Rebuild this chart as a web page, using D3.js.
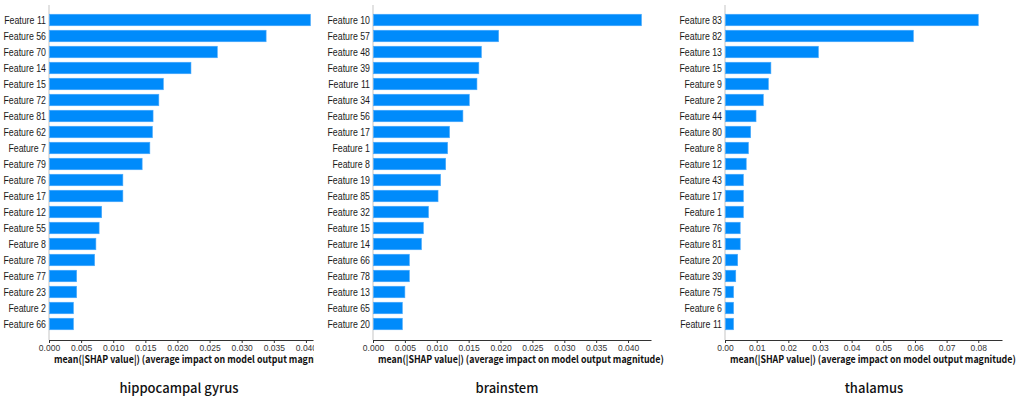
<!DOCTYPE html>
<html lang="en">
<head>
<meta charset="UTF-8">
<title>SHAP feature importance by region</title>
<script src="https://d3js.org/d3.v7.min.js"></script>
<style>
    body { margin: 0; background: #fff; }
    .feat { font: 10px "Liberation Sans", sans-serif; fill: #1a1a1a; }
    .tick text { font: 8.5px "Liberation Sans", sans-serif; fill: #333; }
    .xlabel { font: 600 10px "Noto Sans CJK SC", "Liberation Sans", sans-serif; fill: #111; }
    .title { font: 500 13px "Noto Sans CJK SC", "Liberation Sans", sans-serif; fill: #111; }
</style>
</head>
<body>
<div id="chart"></div>
<script>
    const width = 1021;
    const height = 398;

    // region titles
    const regions = ["hippocampal gyrus", "brainstem", "thalamus"];

    // hippocampal gyrus
    const hgFeatures = ["Feature 11", "Feature 56", "Feature 70", "Feature 14", "Feature 15", "Feature 72", "Feature 81",
        "Feature 62", "Feature 7", "Feature 79", "Feature 76", "Feature 17", "Feature 12", "Feature 55", "Feature 8",
        "Feature 78", "Feature 77", "Feature 23", "Feature 2", "Feature 66"];
    const hgValues = [0.0407, 0.0338, 0.0262, 0.0221, 0.0178, 0.0171, 0.0162, 0.0161, 0.0157, 0.0145,
        0.0115, 0.0115, 0.0082, 0.0078, 0.0073, 0.0071, 0.0043, 0.0043, 0.0038, 0.0038];

    // brainstem
    const bsFeatures = ["Feature 10", "Feature 57", "Feature 48", "Feature 39", "Feature 11", "Feature 34", "Feature 56",
        "Feature 17", "Feature 1", "Feature 8", "Feature 19", "Feature 85", "Feature 32", "Feature 15", "Feature 14",
        "Feature 66", "Feature 78", "Feature 13", "Feature 65", "Feature 20"];
    const bsValues = [0.0421, 0.0197, 0.0170, 0.0166, 0.0163, 0.0151, 0.0141, 0.0120, 0.0117, 0.0114,
        0.0106, 0.0102, 0.0087, 0.0079, 0.0076, 0.0057, 0.0057, 0.0050, 0.0046, 0.0046];

    // thalamus
    const thFeatures = ["Feature 83", "Feature 82", "Feature 13", "Feature 15", "Feature 9", "Feature 2", "Feature 44",
        "Feature 80", "Feature 8", "Feature 12", "Feature 43", "Feature 17", "Feature 1", "Feature 76", "Feature 81",
        "Feature 20", "Feature 39", "Feature 75", "Feature 6", "Feature 11"];
    const thValues = [0.0800, 0.0595, 0.0295, 0.0145, 0.0137, 0.0121, 0.0098, 0.0081, 0.0074, 0.0067,
        0.0058, 0.0058, 0.0058, 0.0048, 0.0048, 0.0040, 0.0034, 0.0027, 0.0027, 0.0027];

    // tick values
    const smallTicks = [0, 0.005, 0.010, 0.015, 0.020, 0.025, 0.030, 0.035, 0.040];
    const largeTicks = [0, 0.01, 0.02, 0.03, 0.04, 0.05, 0.06, 0.07, 0.08];

    const xLabel = "mean(|SHAP value|) (average impact on model output magnitude)";

    const panels = [
        { title: regions[0], features: hgFeatures, values: hgValues, ticks: smallTicks, fmt: ".3f",
          x0: 49, x1: 313, xMax: 0.0411, clip: 314, titleX: 179 },
        { title: regions[1], features: bsFeatures, values: bsValues, ticks: smallTicks, fmt: ".3f",
          x0: 373, x1: 651, xMax: 0.0436, clip: 670, titleX: 507 },
        { title: regions[2], features: thFeatures, values: thValues, ticks: largeTicks, fmt: ".2f",
          x0: 725, x1: 1002, xMax: 0.0875, clip: 1021, titleX: 874 }
    ];

    const plotTop = 12;
    const plotBottom = 332;
    const axisY = 340;
    const labelWidth = 286;

    const svg = d3.select("#chart").append("svg")
        .attr("width", width)
        .attr("height", height)
        .attr("viewBox", [0, 0, width, height]);

    panels.forEach((p, i) => {
        const clipId = `clip-${i}`;
        const left = i === 0 ? 0 : panels[i - 1].clip;
        svg.append("clipPath").attr("id", clipId)
            .append("rect").attr("x", left).attr("y", 0)
            .attr("width", p.clip - left).attr("height", height);

        const g = svg.append("g").attr("clip-path", `url(#${clipId})`);

        const x = d3.scaleLinear().domain([0, p.xMax]).range([p.x0, p.x1]);
        const y = d3.scaleBand().domain(p.features)
            .range([plotTop, plotBottom])
            .paddingInner(0.28)
            .paddingOuter(0.14);

        // light left spine
        g.append("line")
            .attr("x1", x(0)).attr("x2", x(0))
            .attr("y1", 5).attr("y2", axisY)
            .attr("stroke", "#d9d9d9")
            .attr("stroke-width", 1.5);

        g.append("g")
            .selectAll("rect")
            .data(p.features.map((f, k) => ({ f, v: p.values[k] })))
            .join("rect")
            .attr("x", x(0) + 0.5)
            .attr("y", d => y(d.f))
            .attr("width", d => x(d.v) - x(0) - 0.5)
            .attr("height", y.bandwidth())
            .attr("fill", "#008bfb")
            .attr("stroke", "#4aa9fb")
            .attr("stroke-width", 0.6);

        // feature names, squeezed a little to match the narrow face
        g.append("g")
            .selectAll("text")
            .data(p.features)
            .join("text")
            .attr("class", "feat")
            .attr("transform", d => `translate(${x(0) - 3},${y(d) + y.bandwidth() / 2}) scale(0.88,1)`)
            .attr("dy", "0.35em")
            .attr("text-anchor", "end")
            .text(d => d);

        g.append("g")
            .attr("transform", `translate(0,${axisY})`)
            .call(d3.axisBottom(x).tickValues(p.ticks).tickFormat(d3.format(p.fmt))
                .tickSize(3).tickSizeOuter(0).tickPadding(1.5))
            .call(a => a.select(".domain").attr("stroke", "#333"))
            .call(a => a.selectAll(".tick line").attr("stroke", "#333"));

        // x label squeezed horizontally to the reference width
        const xl = g.append("text")
            .attr("class", "xlabel")
            .text(xLabel);
        const sx = labelWidth / xl.node().getComputedTextLength();
        xl.attr("transform", `translate(${x(0) + 5},363) scale(${sx},1)`);

        svg.append("text")
            .attr("class", "title")
            .attr("x", p.titleX)
            .attr("y", 393)
            .attr("text-anchor", "middle")
            .text(p.title);
    });
</script>
</body>
</html>
